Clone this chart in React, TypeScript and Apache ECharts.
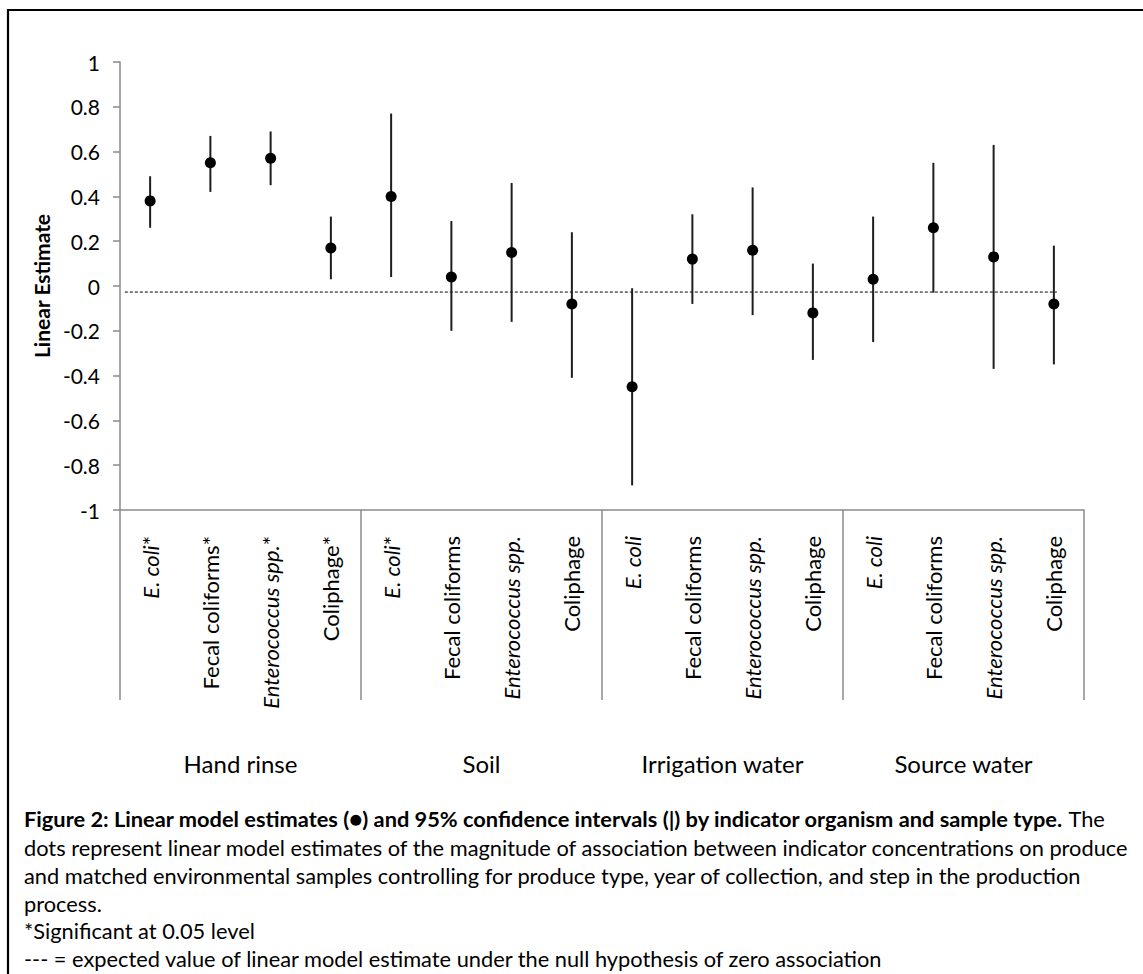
import React, { useEffect, useRef } from 'react';
import * as echarts from 'echarts';

// ---- data ----
const organisms = [
  'E. coli*', 'Fecal coliforms*', 'Enterococcus spp.*', 'Coliphage*',
  'E. coli*', 'Fecal coliforms', 'Enterococcus spp.', 'Coliphage',
  'E. coli', 'Fecal coliforms', 'Enterococcus spp.', 'Coliphage',
  'E. coli', 'Fecal coliforms', 'Enterococcus spp.', 'Coliphage',
];
const sampleTypes = ['Hand rinse', 'Soil', 'Irrigation water', 'Source water'];
const estimates = [0.38, 0.55, 0.57, 0.17, 0.40, 0.04, 0.15, -0.08, -0.45, 0.12, 0.16, -0.12, 0.03, 0.26, 0.13, -0.08];
const ciLower = [0.26, 0.42, 0.45, 0.03, 0.04, -0.20, -0.16, -0.41, -0.89, -0.08, -0.13, -0.33, -0.25, -0.03, -0.37, -0.35];
const ciUpper = [0.49, 0.67, 0.69, 0.31, 0.77, 0.29, 0.46, 0.24, -0.01, 0.32, 0.44, 0.10, 0.31, 0.55, 0.63, 0.18];
const nullLineValue = -0.027;
const nullLineSpan = [0.08, 15.55]; // in category units
const yMin = -1;
const yMax = 1;
const yInterval = 0.2;

const captionBold = 'Figure 2: Linear model estimates (●) and 95% confidence intervals (|) by indicator organism and sample type.';
const captionLines = [
  ' The',
  'dots represent linear model estimates of the magnitude of association between indicator concentrations on produce',
  'and matched environmental samples controlling for produce type, year of collection, and step in the production',
  'process.',
  '*Significant at 0.05 level',
  '--- = expected value of linear model estimate under the null hypothesis of zero association',
];

const FONT = 'Lato, "Noto Sans", "DejaVu Sans", sans-serif';
const AXIS_GRAY = '#8a8a8a';

export default function App() {
  const ref = useRef<HTMLDivElement>(null);

  useEffect(() => {
    if (!ref.current) return;
    const chart = echarts.init(ref.current, undefined, { renderer: 'svg' });

    const catFont = 22;
    const capFont = 21.8;
    const capX = 24;
    const capY = [818, 847, 875, 903, 930, 958];

    const graphics: any[] = [
      {
        type: 'rect',
        shape: { x: 8, y: 10, width: 1400, height: 1400 },
        style: { fill: 'none', stroke: '#000', lineWidth: 2.2 },
        silent: true,
      },
      {
        type: 'text',
        x: capX,
        y: capY[0],
        style: {
          text: `{b|${captionBold}}{n|${captionLines[0]}}`,
          verticalAlign: 'middle',
          rich: {
            b: { fontFamily: FONT, fontSize: capFont, fontWeight: 'bold', fill: '#000' },
            n: { fontFamily: FONT, fontSize: capFont, fill: '#000' },
          },
        },
      },
    ];
    for (let i = 1; i < captionLines.length; i++) {
      graphics.push({
        type: 'text',
        x: capX,
        y: capY[i],
        style: {
          text: captionLines[i],
          fontFamily: FONT,
          fontSize: capFont,
          fill: '#000',
          verticalAlign: 'middle',
        },
      });
    }

    const option: any = {
      animation: false,
      backgroundColor: '#fff',
      grid: { left: 120, right: 59, top: 62, bottom: 464, containLabel: false },
      xAxis: [
        {
          type: 'category',
          data: organisms,
          position: 'bottom',
          axisLine: { show: true, onZero: false, lineStyle: { color: AXIS_GRAY, width: 1.5 } },
          axisTick: { show: false },
          axisLabel: {
            interval: 0,
            rotate: 90,
            margin: 26,
            color: '#000',
            fontFamily: FONT,
            fontSize: catFont,
            formatter: (v: string) => {
              const star = v.endsWith('*');
              const base = star ? v.slice(0, -1) : v;
              const italic = base === 'E. coli' || base.startsWith('Enterococcus');
              const head = italic ? `{it|${base}}` : `{n|${base}}`;
              return star ? `${head}{n|*}` : head;
            },
            rich: {
              it: { fontFamily: FONT, fontSize: catFont, fontStyle: 'italic', color: '#000' },
              n: { fontFamily: FONT, fontSize: catFont, color: '#000' },
            },
          },
          splitLine: { show: false },
        },
        {
          type: 'category',
          data: sampleTypes,
          position: 'bottom',
          offset: 0,
          axisLine: { show: false, onZero: false },
          axisTick: { show: true, interval: 0, length: 190, lineStyle: { color: AXIS_GRAY, width: 1.5 } },
          axisLabel: {
            interval: 0,
            margin: 241,
            color: '#000',
            fontFamily: FONT,
            fontSize: 24,
          },
          splitLine: { show: false },
        },
        {
          type: 'value',
          min: 0,
          max: organisms.length,
          show: false,
          axisLine: { onZero: false },
          splitLine: { show: false },
        },
      ],
      yAxis: {
        type: 'value',
        min: yMin,
        max: yMax,
        interval: yInterval,
        name: 'Linear Estimate',
        nameLocation: 'middle',
        nameGap: 55,
        nameTextStyle: { fontFamily: FONT, fontSize: 21, fontWeight: 'bold', color: '#000' },
        axisLine: { show: true, onZero: false, lineStyle: { color: AXIS_GRAY, width: 1.5 } },
        axisTick: { show: true, length: 7, lineStyle: { color: AXIS_GRAY, width: 1.5 } },
        axisLabel: { margin: 20, color: '#000', fontFamily: FONT, fontSize: 21 },
        splitLine: { show: false },
      },
      series: [
        {
          type: 'line',
          xAxisIndex: 2,
          data: [
            [nullLineSpan[0], nullLineValue],
            [nullLineSpan[1], nullLineValue],
          ],
          symbol: 'none',
          lineStyle: { color: '#000', width: 1, type: [3, 2] },
          silent: true,
          z: 1,
        },
        {
          type: 'custom',
          xAxisIndex: 0,
          data: organisms.map((_, i) => [i, ciLower[i], ciUpper[i]]),
          renderItem: (params: any, api: any) => {
            const x = api.value(0);
            const lo = api.coord([x, api.value(1)]);
            const hi = api.coord([x, api.value(2)]);
            return {
              type: 'line',
              shape: { x1: lo[0], y1: lo[1], x2: hi[0], y2: hi[1] },
              style: { stroke: '#1e1e1e', lineWidth: 2 },
            };
          },
          z: 2,
        },
        {
          type: 'scatter',
          xAxisIndex: 0,
          data: estimates.map((v, i) => [i, v]),
          symbol: 'circle',
          symbolSize: 11,
          itemStyle: { color: '#000', opacity: 1 },
          z: 3,
        },
      ],
      graphic: graphics,
    };

    chart.setOption(option);
    return () => chart.dispose();
  }, []);

  return (
    <div
      ref={ref}
      style={{ position: 'fixed', left: 0, top: 0, width: 1143, height: 974, background: '#fff' }}
    />
  );
}
